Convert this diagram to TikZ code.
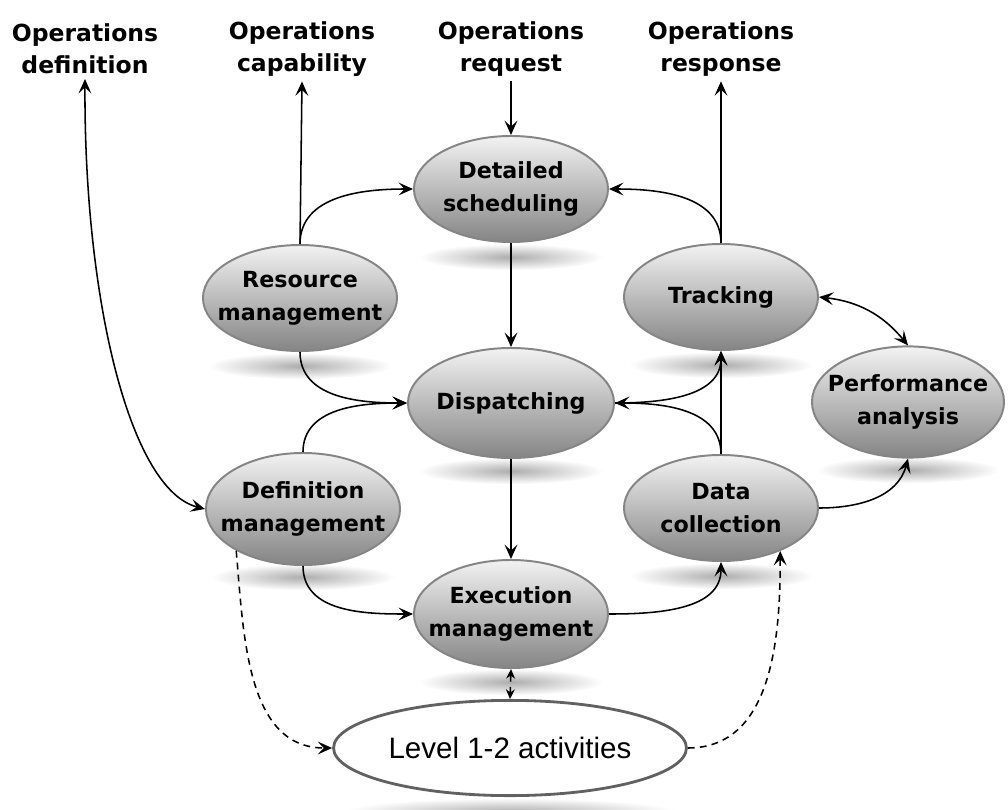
\documentclass[tikz,border=0pt]{standalone}
\usepackage{fontspec}
\setmainfont{DejaVu Sans}
\newfontfamily\arialfont{Liberation Sans}
\usetikzlibrary{shapes.geometric,arrows.meta,backgrounds}

\tikzset{
        task/.style={ellipse, draw=black!48, line width=1.4pt, top color=black!5, bottom color=black!48,
                minimum width=4.85cm, minimum height=2.65cm, inner xsep=-0.6cm, align=center,
                font=\fontsize{15.8}{23.5}\selectfont\bfseries},
        outside/.style={align=center, font=\fontsize{16.7}{22.7}\selectfont\bfseries},
        tip/.tip={Stealth[length=3.6mm,width=3.2mm,inset=1.5mm]},
        flow/.style={line width=1.1pt, -tip},
        twoway/.style={line width=1.1pt, tip-tip},
        field/.style={line width=1.1pt, dash pattern=on 1.7mm off 1.3mm},
}

\begin{document}
\begin{tikzpicture}[x=0.025cm, y=-0.025cm]
        \useasboundingbox (0,0) rectangle (1008,810);

        % outside information
        \node[outside] (opdef) at (85,49) {Operations\\definition};
        \node[outside] (opcap) at (302,49) {Operations\\capability};
        \node[outside] (opreq) at (511,49) {Operations\\request};
        \node[outside] (opresp) at (721,49) {Operations\\response};

        % activities
        \node[task] (dsched) at (511,189) {Detailed\\scheduling};
        \node[task] (resmgmt) at (300,298) {Resource\\management};
        \node[task] (track) at (721,297) {Tracking};
        \node[task, minimum width=5.15cm, minimum height=2.75cm] (disp) at (511,403) {Dispatching};
        \node[task, minimum width=4.8cm, minimum height=2.78cm] (perf) at (908,402) {Performance\\analysis};
        \node[task, minimum height=2.8cm] (defmgmt) at (303,509) {Definition\\management};
        \node[task] (datacoll) at (721,508) {Data\\collection};
        \node[task, minimum height=2.7cm] (execmgmt) at (511,614) {Execution\\management};
        \node[ellipse, draw=black!62, line width=2pt, fill=white, minimum width=8.82cm, minimum height=2.38cm,
                inner xsep=-0.6cm, font=\arialfont\fontsize{21}{25}\selectfont] (level) at (510,748) {Level 1-2 activities};

        % shadows
        \begin{scope}[on background layer]
                \foreach \n in {dsched,resmgmt,track,disp,perf,defmgmt,datacoll,execmgmt}
                        \shade[inner color=black!32, outer color=white] ([yshift=-1.7cm]\n.center) ellipse [x radius=2.3cm, y radius=0.33cm];
                \shade[inner color=black!32, outer color=white] ([yshift=-1.6cm]level.center) ellipse [x radius=4.2cm, y radius=0.35cm];
        \end{scope}

        % connectors
        \draw[twoway] (opdef.south) .. controls (84,300) and (130,490) .. (defmgmt.west);
        \draw[flow] (resmgmt.north) -- (opcap.south);
        \draw[flow] (resmgmt.north) to[out=90, in=180] (dsched.west);
        \draw[flow] (opreq.south) -- (dsched.north);
        \draw[flow] (track.north) -- (opresp.south);
        \draw[flow] (track.north) to[out=90, in=0] (dsched.east);
        \draw[twoway] (track.east) to[bend left=22] (perf.north);
        \draw[flow] (dsched.south) -- (disp.north);
        \draw[flow] (resmgmt.south) to[out=-90, in=180] (disp.west);
        \draw[flow] (defmgmt.north) to[out=90, in=180] (disp.west);
        \draw[flow] (datacoll.north) to[out=90, in=0] (disp.east);
        \draw[flow] (disp.east) to[out=0, in=-90] (track.south);
        \draw[flow] (datacoll.north) -- (track.south);
        \draw[flow] (disp.south) -- (execmgmt.north);
        \draw[flow] (defmgmt.south) to[out=-90, in=180] (execmgmt.west);
        \draw[flow] (execmgmt.east) to[out=0, in=-90] (datacoll.south);
        \draw[flow] (datacoll.east) to[out=0, in=-105] (perf.south);
        \draw[field, {Stealth[length=2.4mm,width=2.2mm]}-{Stealth[length=2.4mm,width=2.2mm]}] (execmgmt.south) -- (level.north);
        \draw[field, -tip] (defmgmt.-148) to[out=-85, in=180] (level.west);
        \draw[field, -tip] (level.east) to[out=0, in=-90] (datacoll.-36);
\end{tikzpicture}
\end{document}
